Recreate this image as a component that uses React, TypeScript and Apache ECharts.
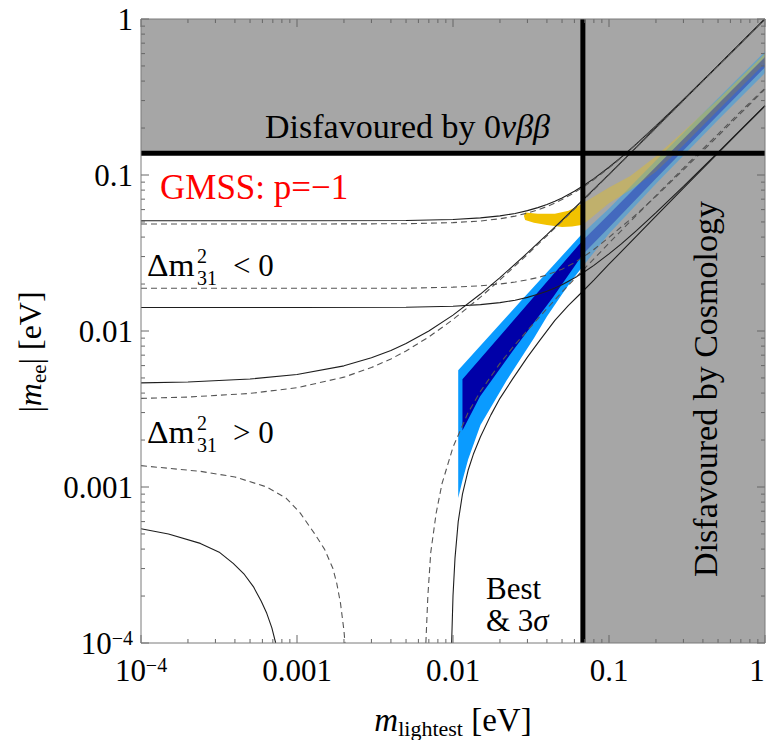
import React, { useEffect, useRef } from "react";
import * as echarts from "echarts";

type P = [number, number];

const SERIF = '"Liberation Serif", "Times New Roman", serif';

const X_MIN = 1e-4;
const X_MAX = 1;
const Y_MIN = 1e-4;
const Y_MAX = 1;
const COSMO_BOUND = 0.068; // m_lightest bound (vertical thick line)
const BB_BOUND = 0.138; // |m_ee| bound (horizontal thick line)

const DECADES = [1e-4, 1e-3, 1e-2, 1e-1, 1];
const MINOR_STEPS = [2, 3, 4, 5, 6, 7, 8, 9];
const TICK_LABELS = ["10^-4", "0.001", "0.01", "0.1", "1"];

// Inverted ordering (Δm²31 < 0)
const ihUpperSolid: P[] = [
  [1e-4, 0.0509], [1e-3, 0.0509], [5e-3, 0.0511], [0.01, 0.0519], [0.015, 0.0531], [0.02, 0.0547],
  [0.025, 0.0567], [0.03, 0.0591], [0.035, 0.0618], [0.04, 0.0647], [0.045, 0.0679], [0.05, 0.0713],
  [0.06, 0.0787], [0.07, 0.0865], [0.08, 0.0948], [0.1, 0.1122], [0.12, 0.1303], [0.15, 0.1584],
  [0.2, 0.2064], [0.3, 0.3043], [0.5, 0.5026], [0.7, 0.7018], [1, 0.999],
];
const ihUpperDashed: P[] = [
  [1e-4, 0.0485], [1e-3, 0.0485], [5e-3, 0.0487], [0.01, 0.0495], [0.015, 0.0507], [0.02, 0.0524],
  [0.025, 0.0545], [0.03, 0.057], [0.035, 0.0598], [0.04, 0.0628], [0.045, 0.0661], [0.05, 0.0696],
  [0.06, 0.0771], [0.07, 0.0851], [0.08, 0.0935], [0.1, 0.1111], [0.12, 0.1294], [0.15, 0.1578],
  [0.2, 0.2058], [0.3, 0.3039], [0.5, 0.5023], [0.7, 0.7017], [1, 0.999],
];
const ihLowerSolid: P[] = [
  [1e-4, 0.01415], [1e-3, 0.01415], [5e-3, 0.0142], [0.01, 0.0144], [0.015, 0.01476], [0.02, 0.0152],
  [0.025, 0.01576], [0.03, 0.01643], [0.035, 0.01718], [0.04, 0.018], [0.045, 0.01888], [0.05, 0.0198],
  [0.06, 0.02188], [0.07, 0.02405], [0.08, 0.02636], [0.1, 0.0312], [0.12, 0.03622], [0.15, 0.044],
  [0.2, 0.0574], [0.3, 0.0846], [0.5, 0.1397], [0.7, 0.1951], [1, 0.2784],
];
const ihLowerDashed: P[] = [
  [1e-4, 0.0188], [1e-3, 0.0188], [5e-3, 0.0188], [0.01, 0.0191], [0.015, 0.0195], [0.02, 0.02],
  [0.025, 0.0206], [0.03, 0.0213], [0.035, 0.022], [0.04, 0.0229], [0.045, 0.0239], [0.05, 0.0249],
  [0.06, 0.0274], [0.07, 0.0303], [0.08, 0.0333], [0.1, 0.0398], [0.12, 0.0465], [0.15, 0.056],
  [0.2, 0.073], [0.3, 0.108], [0.5, 0.178], [0.7, 0.249], [1, 0.355],
];

// Normal ordering (Δm²31 > 0)
const nhUpperSolid: P[] = [
  [1e-4, 0.00465], [2e-4, 0.00471], [5e-4, 0.00492], [1e-3, 0.00526], [2e-3, 0.00598], [3e-3, 0.00673],
  [4e-3, 0.0075], [5e-3, 0.00832], [7e-3, 0.01], [0.01, 0.01264], [0.015, 0.01725], [0.02, 0.02198],
  [0.03, 0.03164], [0.04, 0.04143], [0.05, 0.05129], [0.065, 0.06616], [0.08, 0.08113], [0.1, 0.10107],
  [0.15, 0.1511], [0.2, 0.2016], [0.3, 0.3015], [0.5, 0.5027], [0.7, 0.7035], [0.995, 0.999],
];
const nhUpperDashed: P[] = [
  [1e-4, 0.0037], [2e-4, 0.00377], [5e-4, 0.00398], [1e-3, 0.00433], [2e-3, 0.00506], [3e-3, 0.00583],
  [4e-3, 0.00662], [5e-3, 0.00745], [7e-3, 0.00916], [0.01, 0.01184], [0.015, 0.01649], [0.02, 0.02125],
  [0.03, 0.03097], [0.04, 0.04079], [0.05, 0.05067], [0.065, 0.06552], [0.08, 0.08044], [0.1, 0.10036],
  [0.15, 0.1503], [0.2, 0.2002], [0.3, 0.3001], [0.5, 0.5], [0.7, 0.7], [1, 0.999],
];
const nhLowerSolidLeft: P[] = [
  [1e-4, 5.4e-4], [1.5e-4, 5.0e-4], [2.4e-4, 4.35e-4], [3.2e-4, 3.8e-4], [3.9e-4, 3.24e-4],
  [4.6e-4, 2.75e-4], [5.25e-4, 2.3e-4], [5.9e-4, 1.85e-4], [6.4e-4, 1.55e-4], [6.9e-4, 1.25e-4], [7.3e-4, 1.0e-4],
];
const nhLowerSolidRight: P[] = [
  [0.0098, 1e-4], [0.01, 2e-4], [0.0103, 3.5e-4], [0.0108, 6e-4], [0.0115, 9e-4], [0.0125, 0.00128],
  [0.0135, 0.00162], [0.015, 0.0021], [0.0175, 0.0029], [0.02, 0.0037], [0.024, 0.0049], [0.03, 0.0068],
  [0.036, 0.0087], [0.045, 0.0117], [0.055, 0.0146], [0.065, 0.0172], [0.08, 0.0212], [0.1, 0.0268],
  [0.15, 0.0405], [0.2, 0.0545], [0.3, 0.0825], [0.5, 0.138], [0.7, 0.194], [1, 0.277],
];
const nhLowerDashedLeft: P[] = [
  [1e-4, 0.00137], [2.4e-4, 0.00126], [4e-4, 0.00116], [6.4e-4, 0.001], [8.5e-4, 0.00085],
  [0.00105, 0.00068], [0.0013, 0.0005], [0.0015, 0.0004], [0.0017, 0.0003], [0.0018, 0.00024],
  [0.0019, 0.00018], [0.002, 0.00012], [0.00203, 0.0001],
];
const nhLowerDashedRight: P[] = [
  [0.0067, 1e-4], [0.0069, 2e-4], [0.0072, 3.8e-4], [0.0078, 6.8e-4], [0.0085, 0.00105], [0.01, 0.0018],
  [0.0125, 0.003], [0.015, 0.0041], [0.02, 0.0062], [0.025, 0.0082], [0.03, 0.0101], [0.04, 0.0139],
  [0.05, 0.0178], [0.065, 0.0234], [0.08, 0.029], [0.1, 0.0366], [0.15, 0.0552], [0.2, 0.0738],
  [0.3, 0.1108], [0.5, 0.183], [0.7, 0.256], [1, 0.36],
];

// GMSS p = -1 predictions: allowed bands (upper and lower edges)
const lightBlueUpper: P[] = [[0.0108, 0.0056], [0.0265, 0.0151], [0.068, 0.0425]];
const lightBlueLower: P[] = [
  [0.0108, 0.00085], [0.0115, 0.0011], [0.0125, 0.0015], [0.015, 0.0025], [0.018, 0.0034], [0.022, 0.0048],
  [0.027, 0.0066], [0.033, 0.009], [0.04, 0.0124], [0.05, 0.0172], [0.058, 0.0212], [0.068, 0.026],
];
const darkBlueUpper: P[] = [[0.0115, 0.0049], [0.068, 0.0382]];
const darkBlueLower: P[] = [[0.0115, 0.0023], [0.0149, 0.0038], [0.0244, 0.00755], [0.044, 0.0166], [0.068, 0.031]];
const yellowUpper: P[] = [[0.0285, 0.0545], [0.029, 0.0575], [0.035, 0.0565], [0.045, 0.0565], [0.055, 0.059], [0.068, 0.066]];
const yellowLower: P[] = [[0.0285, 0.0545], [0.029, 0.0515], [0.033, 0.0495], [0.04, 0.0478], [0.05, 0.0465], [0.058, 0.0467], [0.068, 0.048]];

const lightBlueGreyUpper: P[] = [[0.068, 0.0425], [0.1, 0.061], [0.2, 0.124], [0.5, 0.31], [1, 0.62]];
const lightBlueGreyLower: P[] = [[0.068, 0.026], [0.1, 0.042], [0.2, 0.088], [0.5, 0.225], [1, 0.45]];
const darkBlueGreyUpper: P[] = [[0.068, 0.0382], [0.1, 0.056], [0.2, 0.113], [0.5, 0.285], [1, 0.57]];
const darkBlueGreyLower: P[] = [[0.068, 0.031], [0.1, 0.046], [0.2, 0.095], [0.5, 0.242], [1, 0.49]];
const yellowGreyUpper: P[] = [[0.068, 0.066], [0.1, 0.083], [0.137, 0.0985], [0.2, 0.132], [0.3, 0.19], [0.5, 0.305], [1, 0.6]];
const yellowGreyLower: P[] = [[0.068, 0.048], [0.1, 0.066], [0.137, 0.08], [0.2, 0.105], [0.3, 0.155], [0.5, 0.26], [1, 0.52]];

const band = (upper: P[], lower: P[]): P[] => upper.concat(lower.slice().reverse());

function polySeries(pts: P[], fill: string, z: number, opacity = 1) {
  return {
    type: "custom",
    coordinateSystem: "cartesian2d",
    silent: true,
    z,
    data: [[0.01, 0.01]],
    renderItem: (_params: any, api: any) => ({
      type: "polygon",
      shape: { points: pts.map((p) => api.coord(p)) },
      style: { fill, opacity },
    }),
  };
}

function curve(pts: P[], dashed: boolean) {
  return {
    type: "line",
    data: pts,
    symbol: "none",
    showSymbol: false,
    smooth: false,
    silent: true,
    z: 3,
    lineStyle: dashed
      ? { color: "#555", width: 1.1, type: [6, 4] }
      : { color: "#1e1e1e", width: 1.1, type: "solid" },
  };
}

function labelText(v: number, isX: boolean) {
  const e = Math.round(Math.log10(v));
  const t = TICK_LABELS[e + 4];
  if (t.indexOf("^") >= 0) {
    const [b, s] = t.split("^");
    return `{b|${b}}{s|${s.replace("-", "\u2212")}}`;
  }
  if (isX && e === 0) return `{last|${t}}`;
  return `{b|${t}}`;
}

const labelRich = {
  b: { fontSize: 31, fontFamily: SERIF, color: "#000", lineHeight: 30 },
  last: { fontSize: 31, fontFamily: SERIF, color: "#000", lineHeight: 30, padding: [0, 16, 0, 0] },
  s: { fontSize: 20, fontFamily: SERIF, color: "#000", lineHeight: 16, verticalAlign: "top" },
};

const tickData: number[][] = [];
DECADES.forEach((d, i) => {
  tickData.push([d, d, 1, 0], [d, d, 1, 1]);
  if (i < DECADES.length - 1) {
    MINOR_STEPS.forEach((s) => {
      tickData.push([s * d, s * d, 0, 0], [s * d, s * d, 0, 1]);
    });
  }
});

export default function App() {
  const ref = useRef<HTMLDivElement>(null);
  useEffect(() => {
    const chart = echarts.init(ref.current!, undefined, { renderer: "svg" });
    const tickStyle = { stroke: "#666", lineWidth: 1 };
    const option: any = {
      animation: false,
      backgroundColor: "#fff",
      grid: { left: 141, top: 19, width: 624, height: 624, containLabel: false, outerBoundsMode: "none" },
      xAxis: {
        type: "log",
        logBase: 10,
        min: X_MIN,
        max: X_MAX,
        splitNumber: 4,
        axisLine: { show: false },
        axisTick: { show: false },
        minorTick: { show: false },
        splitLine: { show: false },
        axisLabel: { margin: 12, formatter: (v: number) => labelText(v, true), rich: labelRich, showMinLabel: true, showMaxLabel: true, hideOverlap: false },
      },
      yAxis: {
        type: "log",
        logBase: 10,
        min: Y_MIN,
        max: Y_MAX,
        splitNumber: 4,
        axisLine: { show: false },
        axisTick: { show: false },
        minorTick: { show: false },
        splitLine: { show: false },
        axisLabel: { margin: 8, formatter: (v: number) => labelText(v, false), rich: labelRich, showMinLabel: true, showMaxLabel: true, hideOverlap: false },
      },
      series: [
        polySeries([[COSMO_BOUND, Y_MIN], [X_MAX, Y_MIN], [X_MAX, Y_MAX], [COSMO_BOUND, Y_MAX]], "#a6a6a6", 1),
        polySeries([[X_MIN, BB_BOUND], [COSMO_BOUND, BB_BOUND], [COSMO_BOUND, Y_MAX], [X_MIN, Y_MAX]], "#a6a6a6", 1),
        polySeries(band(lightBlueUpper, lightBlueLower), "#0a9bff", 2),
        polySeries(band(darkBlueUpper, darkBlueLower), "#0000a8", 2),
        polySeries(band(yellowUpper, yellowLower), "#f2c200", 2),
        polySeries(band(lightBlueGreyUpper, lightBlueGreyLower), "#0a9bff", 2, 0.4),
        polySeries(band(yellowGreyUpper, yellowGreyLower), "#f2c200", 2, 0.35),
        polySeries(band(darkBlueGreyUpper, darkBlueGreyLower), "#0000a8", 2, 0.35),
        curve(ihUpperSolid, false),
        curve(ihUpperDashed, true),
        curve(ihLowerSolid, false),
        curve(ihLowerDashed, true),
        curve(nhUpperSolid, false),
        curve(nhUpperDashed, true),
        curve(nhLowerSolidLeft, false),
        curve(nhLowerSolidRight, false),
        curve(nhLowerDashedLeft, true),
        curve(nhLowerDashedRight, true),
        {
          type: "line",
          data: [[X_MIN, BB_BOUND], [X_MAX, BB_BOUND]],
          symbol: "none",
          silent: true,
          z: 4,
          lineStyle: { color: "#000", width: 5 },
        },
        {
          type: "line",
          data: [[COSMO_BOUND, Y_MIN], [COSMO_BOUND, Y_MAX]],
          symbol: "none",
          silent: true,
          z: 4,
          lineStyle: { color: "#000", width: 5 },
        },
        {
          type: "custom",
          coordinateSystem: "cartesian2d",
          silent: true,
          z: 5,
          data: tickData,
          renderItem: (_params: any, api: any) => {
            const v = api.value(0);
            const len = api.value(2) ? 8 : 4;
            if (api.value(3) === 0) {
              const [px, pb] = api.coord([v, Y_MIN]);
              const pt = api.coord([v, Y_MAX])[1];
              return {
                type: "group",
                children: [
                  { type: "line", shape: { x1: px, y1: pb, x2: px, y2: pb - len }, style: tickStyle },
                  { type: "line", shape: { x1: px, y1: pt, x2: px, y2: pt + len }, style: tickStyle },
                ],
              };
            }
            const [pl, py] = api.coord([X_MIN, v]);
            const pr = api.coord([X_MAX, v])[0];
            return {
              type: "group",
              children: [
                { type: "line", shape: { x1: pl, y1: py, x2: pl + len, y2: py }, style: tickStyle },
                { type: "line", shape: { x1: pr, y1: py, x2: pr - len, y2: py }, style: tickStyle },
              ],
            };
          },
        },
        {
          type: "custom",
          coordinateSystem: "cartesian2d",
          silent: true,
          z: 6,
          data: [[0.01, 0.01]],
          renderItem: (_params: any, api: any) => {
            const [x0, y0] = api.coord([X_MIN, Y_MIN]);
            const [x1, y1] = api.coord([X_MAX, Y_MAX]);
            return {
              type: "rect",
              shape: { x: x0, y: y1, width: x1 - x0, height: y0 - y1 },
              style: { fill: "none", stroke: "#7a7a7a", lineWidth: 1 },
            };
          },
        },
      ],
      graphic: [
        {
          type: "text", x: 265, y: 126, z: 100,
          style: {
            text: "{n|Disfavoured by 0}{i|νββ}",
            verticalAlign: "middle",
            align: "left",
            rich: {
              n: { fontSize: 34, fontFamily: SERIF, fill: "#000" },
              i: { fontSize: 34, fontFamily: SERIF, fontStyle: "italic", fill: "#000" },
            },
          },
        },
        {
          type: "text", x: 160, y: 187, z: 100,
          style: { text: "GMSS: p=\u22121", fontSize: 35, fontFamily: SERIF, fill: "#ff0000", verticalAlign: "middle", align: "left" },
        },
        // Δm²31 < 0
        { type: "text", x: 147, y: 265, z: 100, scaleX: 1.08, style: { text: "Δm", fontSize: 31, fontFamily: SERIF, fill: "#000", verticalAlign: "middle" } },
        { type: "text", x: 197, y: 256, z: 100, style: { text: "2", fontSize: 20, fontFamily: SERIF, fill: "#000", verticalAlign: "middle" } },
        { type: "text", x: 197, y: 278, z: 100, style: { text: "31", fontSize: 20, fontFamily: SERIF, fill: "#000", verticalAlign: "middle" } },
        { type: "text", x: 233, y: 265, z: 100, style: { text: "< 0", fontSize: 31, fontFamily: SERIF, fill: "#000", verticalAlign: "middle" } },
        // Δm²31 > 0
        { type: "text", x: 147, y: 432, z: 100, scaleX: 1.08, style: { text: "Δm", fontSize: 31, fontFamily: SERIF, fill: "#000", verticalAlign: "middle" } },
        { type: "text", x: 197, y: 423, z: 100, style: { text: "2", fontSize: 20, fontFamily: SERIF, fill: "#000", verticalAlign: "middle" } },
        { type: "text", x: 197, y: 445, z: 100, style: { text: "31", fontSize: 20, fontFamily: SERIF, fill: "#000", verticalAlign: "middle" } },
        { type: "text", x: 233, y: 432, z: 100, style: { text: "> 0", fontSize: 31, fontFamily: SERIF, fill: "#000", verticalAlign: "middle" } },
        // Best & 3σ
        {
          type: "text", x: 486, y: 604, z: 100,
          style: {
            text: "{n|Best}\n{n|& 3}{i|σ}", verticalAlign: "middle", align: "left",
            rich: {
              n: { fontSize: 31, fontFamily: SERIF, fill: "#000", lineHeight: 32 },
              i: { fontSize: 31, fontFamily: SERIF, fontStyle: "italic", fill: "#000", lineHeight: 32 },
            },
          },
        },
        {
          type: "text", x: 705, y: 389, z: 100, rotation: Math.PI / 2,
          style: { text: "Disfavoured by Cosmology", fontSize: 34, fontFamily: SERIF, fill: "#000", verticalAlign: "middle", align: "center" },
        },
        {
          type: "text", x: 30, y: 352, z: 100, rotation: Math.PI / 2,
          style: {
            text: "{n||}{i|m}{sub|ee}{n|| [eV]}", verticalAlign: "middle", align: "center",
            rich: {
              n: { fontSize: 32, fontFamily: SERIF, fill: "#000", lineHeight: 38 },
              i: { fontSize: 32, fontFamily: SERIF, fontStyle: "italic", fill: "#000", lineHeight: 38 },
              sub: { fontSize: 21, fontFamily: SERIF, fill: "#000", lineHeight: 21, verticalAlign: "bottom" },
            },
          },
        },
        {
          type: "text", x: 453, y: 720, z: 100,
          style: {
            text: "{i|m}{sub|lightest}{n| [eV]}", verticalAlign: "middle", align: "center",
            rich: {
              n: { fontSize: 33, fontFamily: SERIF, fill: "#000", lineHeight: 38 },
              i: { fontSize: 33, fontFamily: SERIF, fontStyle: "italic", fill: "#000", lineHeight: 38 },
              sub: { fontSize: 22, fontFamily: SERIF, fill: "#000", lineHeight: 22, verticalAlign: "bottom" },
            },
          },
        },
      ],
    };
    chart.setOption(option);
    return () => chart.dispose();
  }, []);
  return (
    <div
      ref={ref}
      style={{ position: "fixed", left: 0, top: 0, width: 767, height: 740, background: "#fff" }}
    />
  );
}
